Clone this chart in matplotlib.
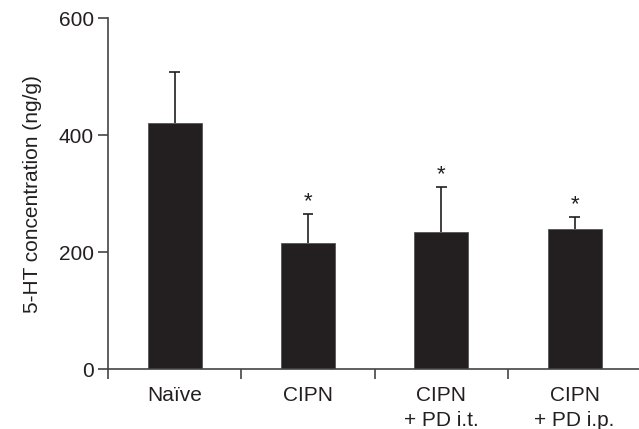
import matplotlib
matplotlib.use("Agg")
import matplotlib.pyplot as plt
import numpy as np

categories = ["Naïve", "CIPN", "CIPN\n+ PD i.t.", "CIPN\n+ PD i.p."]
means = [421, 216, 234, 240]
errors = [87, 50, 77, 21]
significant = [False, True, True, True]
yticks = [0, 200, 400, 600]

plt.rcParams['font.family'] = ['Liberation Sans', 'DejaVu Sans']

W, H = 639, 429
fig = plt.figure(figsize=(W/100, H/100), dpi=100)
left, right = 108, 639
top, bottom = 18.3, 369.3
ax = fig.add_axes([left/W, (H-bottom)/H, (right-left)/W, (bottom-top)/H])

x = np.arange(len(categories)) + 0.5
col = '#231f20'
means_a = np.array(means)
err_a = np.array(errors)
ax.bar(x, means, width=0.405, color=col, edgecolor='#555555', linewidth=0.6, zorder=2)
ax.vlines(x, means_a, means_a + err_a, color=col, linewidth=1.2, zorder=1)
capw = 0.04
ax.hlines(means_a + err_a, x - capw, x + capw, color=col, linewidth=1.2, zorder=1)
for xi, m, e, s in zip(x, means, errors, significant):
    if s:
        ax.text(xi, m + e + 3, "*", ha='center', va='bottom', fontsize=16, color=col)

ax.set_xlim(0, (right-left)/133.3)
ax.set_ylim(0, 600)
ax.set_yticks(yticks)
ax.set_yticklabels([str(v) for v in yticks])
ax.set_xticks([0, 1, 2, 3])
ax.set_xticklabels([])
ax.set_xticks(x, minor=True)
ax.set_xticklabels(categories, minor=True, fontsize=15, color=col, linespacing=1.4)
ax.tick_params(axis='x', which='minor', length=0, pad=12)
ax.tick_params(axis='x', which='major', length=7, width=1.2, color='#444444', direction='out')
ax.tick_params(axis='y', length=7, width=1.2, color='#444444', direction='out', labelsize=15, labelcolor=col, pad=3)
for sp in ['top', 'right']:
    ax.spines[sp].set_visible(False)
for sp in ['left', 'bottom']:
    ax.spines[sp].set_linewidth(1.2)
    ax.spines[sp].set_color('#444444')
ax.set_ylabel("5-HT concentration (ng/g)", fontsize=15, color=col, labelpad=12)

fig.savefig("out.png", dpi=100)
